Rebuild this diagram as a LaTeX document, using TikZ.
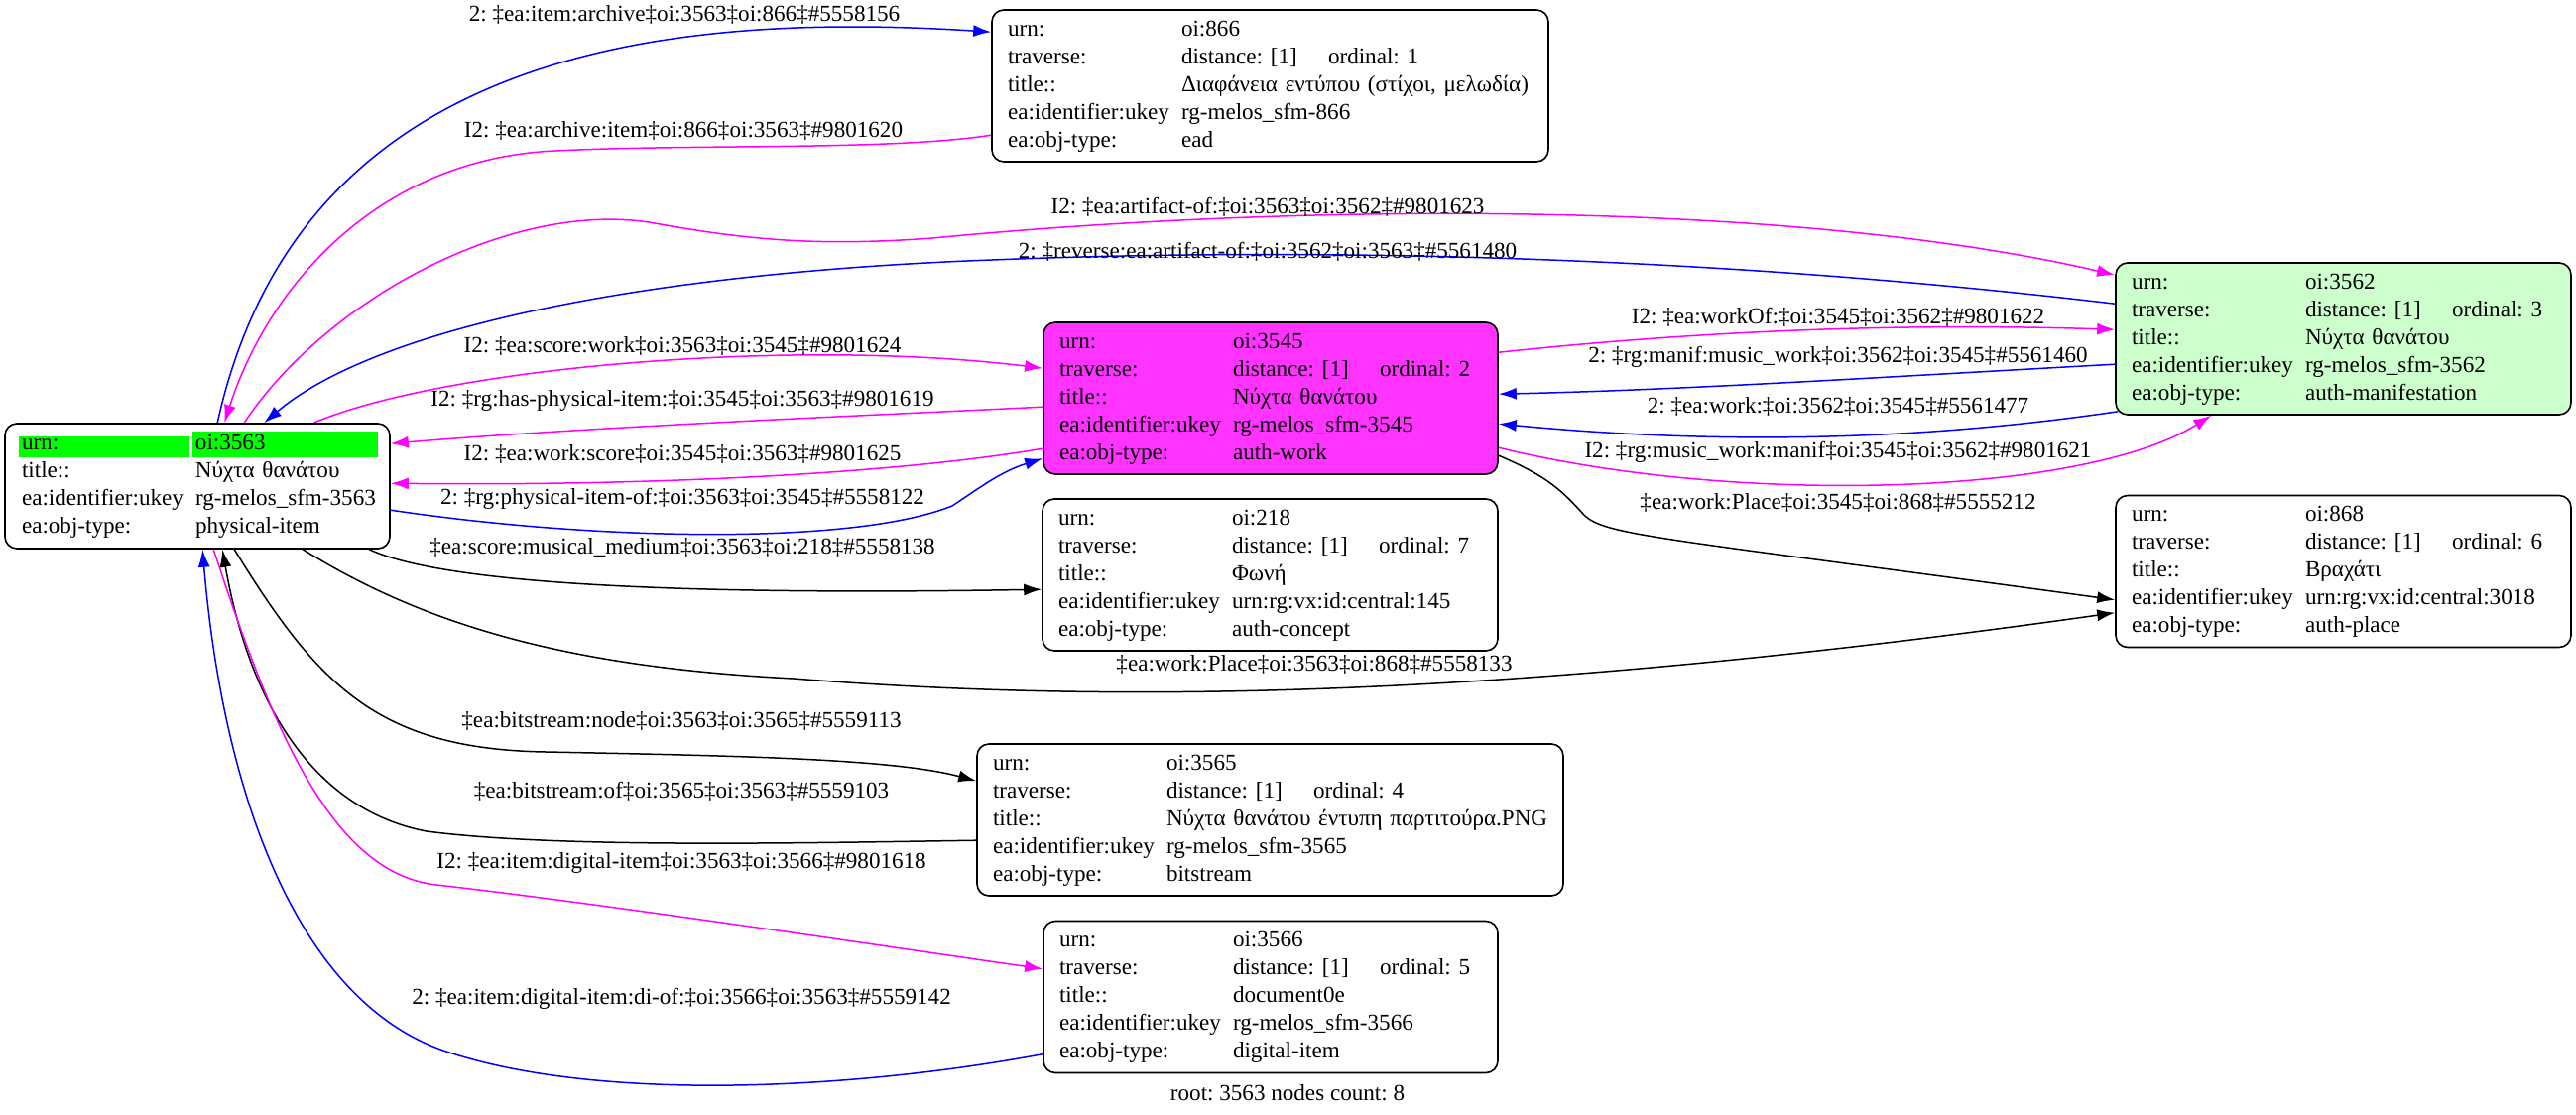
\documentclass[tikz,border=0pt]{standalone}
\usepackage{fontspec}
\setmainfont{Liberation Serif}
\usetikzlibrary{arrows.meta}
\usetikzlibrary{calc}
\pgfdeclarelayer{edgelayer}
\pgfdeclarelayer{nodelayer}
\pgfsetlayers{edgelayer,nodelayer,main}
\definecolor{workpink}{RGB}{255,51,255}
\definecolor{manifgreen}{RGB}{204,255,204}
\definecolor{rootgreen}{RGB}{0,255,0}
\definecolor{fwdblue}{RGB}{0,0,255}
\definecolor{invpink}{RGB}{255,0,255}
\setlength{\fboxsep}{1.5pt}
\newcommand{\recfont}{\fontsize{11.55}{14}\selectfont\frenchspacing}
\newcommand{\kv}[2]{\makebox[87.5pt][l]{#1}\makebox[0pt][l]{#2}}
\newcommand{\trav}[1]{\makebox[74pt][l]{distance: [1]}ordinal: #1}
\newcommand{\hlcell}[2]{\colorbox{rootgreen}{\makebox[#1][l]{\rule[-2pt]{0pt}{7.5pt}#2}}}
\tikzstyle{rec}=[rectangle,rounded corners=6pt,fill=white,draw=black,line width=0.8pt,inner xsep=8pt,inner ysep=0pt,align=left,minimum height=76.5pt,font=\recfont,execute at begin node=\strut,execute at end node=\strut]
\tikzstyle{rec_root}=[rec,inner xsep=8.5pt,text width=177pt,minimum height=63pt]
\tikzstyle{rec_work}=[rec,fill=workpink]
\tikzstyle{rec_manif}=[rec,fill=manifgreen]
\tikzstyle{link}=[-{Latex[length=9pt,width=6pt]},line width=0.75pt,draw=fwdblue]
\tikzstyle{inv_link}=[link,draw=invpink]
\tikzstyle{rel_link}=[link,draw=black]
\tikzstyle{link_label}=[font=\recfont,inner sep=0pt]

\begin{document}
\begin{tikzpicture}[x=0.5pt,y=-0.5pt]
	\useasboundingbox (0,0) rectangle (2597,1124);
	\begin{pgfonlayer}{nodelayer}
		\node [style=rec_root] (0) at (199, 490) {\makebox[\linewidth][l]{\hspace*{-1.5pt}\hlcell{83pt}{urn:}\hspace{1.5pt}\hlcell{90.5pt}{oi:3563}}\\ \kv{title::}{Νύχτα θανάτου}\\ \kv{ea:identifier:ukey}{rg-melos\_sfm-3563}\\ \kv{ea:obj-type:}{physical-item}};
		\node [style=rec, text width=264.5pt] (1) at (1280.5, 86.5) {\kv{urn:}{oi:866}\\ \kv{traverse:}{\trav{1}}\\ \kv{title::}{Διαφάνεια εντύπου (στίχοι, μελωδία)}\\ \kv{ea:identifier:ukey}{rg-melos\_sfm-866}\\ \kv{ea:obj-type:}{ead}};
		\node [style=rec_work, text width=213pt] (2) at (1281, 401.5) {\kv{urn:}{oi:3545}\\ \kv{traverse:}{\trav{2}}\\ \kv{title::}{Νύχτα θανάτου}\\ \kv{ea:identifier:ukey}{rg-melos\_sfm-3545}\\ \kv{ea:obj-type:}{auth-work}};
		\node [style=rec_manif, text width=213.5pt] (3) at (2362.5, 341.5) {\kv{urn:}{oi:3562}\\ \kv{traverse:}{\trav{3}}\\ \kv{title::}{Νύχτα θανάτου}\\ \kv{ea:identifier:ukey}{rg-melos\_sfm-3562}\\ \kv{ea:obj-type:}{auth-manifestation}};
		\node [style=rec, text width=279.5pt] (4) at (1280.5, 826.5) {\kv{urn:}{oi:3565}\\ \kv{traverse:}{\trav{4}}\\ \kv{title::}{Νύχτα θανάτου έντυπη παρτιτούρα.PNG}\\ \kv{ea:identifier:ukey}{rg-melos\_sfm-3565}\\ \kv{ea:obj-type:}{bitstream}};
		\node [style=rec, text width=213pt] (5) at (1281, 1005) {\kv{urn:}{oi:3566}\\ \kv{traverse:}{\trav{5}}\\ \kv{title::}{document0e}\\ \kv{ea:identifier:ukey}{rg-melos\_sfm-3566}\\ \kv{ea:obj-type:}{digital-item}};
		\node [style=rec, text width=213.5pt] (6) at (2362.5, 576) {\kv{urn:}{oi:868}\\ \kv{traverse:}{\trav{6}}\\ \kv{title::}{Βραχάτι}\\ \kv{ea:identifier:ukey}{urn:rg:vx:id:central:3018}\\ \kv{ea:obj-type:}{auth-place}};
		\node [style=rec, text width=213.5pt] (7) at (1280.5, 579.5) {\kv{urn:}{oi:218}\\ \kv{traverse:}{\trav{7}}\\ \kv{title::}{Φωνή}\\ \kv{ea:identifier:ukey}{urn:rg:vx:id:central:145}\\ \kv{ea:obj-type:}{auth-concept}};
		\node [style=link_label] (8) at (1298, 1102) {root: 3563 nodes count: 8};
	\end{pgfonlayer}
	\begin{pgfonlayer}{edgelayer}
		\draw [style=link] ($(0.north west)+(215,0)$) .. controls (300,60) and (650,10) .. ($(1.north west)+(0,23)$) node [style=link_label] at (690,15) {2: ‡ea:item:archive‡oi:3563‡oi:866‡\#5558156};
		\draw [style=inv_link] ($(1.north west)+(0,127)$) .. controls (900,152) and (700,145) .. (560,152) .. controls (380,160) and (270,290) .. ($(0.north west)+(222,0)$) node [style=link_label] at (689,132) {I2: ‡ea:archive:item‡oi:866‡oi:3563‡\#9801620};
		\draw [style=inv_link] ($(0.north west)+(242,0)$) .. controls (330,300) and (520,200) .. (660,225) .. controls (760,243) and (830,248) .. (940,240) .. controls (1300,205) and (1800,200) .. ($(3.north west)+(0,13)$) node [style=link_label] at (1278,209) {I2: ‡ea:artifact-of:‡oi:3563‡oi:3562‡\#9801623};
		\draw [style=link] ($(3.north west)+(0,42)$) .. controls (1700,255) and (1300,250) .. (1000,262) .. controls (650,275) and (380,330) .. ($(0.north west)+(262,0)$) node [style=link_label] at (1278,254) {2: ‡reverse:ea:artifact-of:‡oi:3562‡oi:3563‡\#5561480};
		\draw [style=inv_link] ($(0.north west)+(312,0)$) .. controls (450,370) and (800,340) .. ($(2.north west)+(0,47)$) node [style=link_label] at (688,349) {I2: ‡ea:score:work‡oi:3563‡oi:3545‡\#9801624};
		\draw [style=inv_link] ($(2.north west)+(0,86)$) .. controls (850,420) and (600,430) .. ($(0.north east)+(0,21)$) node [style=link_label] at (688,404) {I2: ‡rg:has-physical-item:‡oi:3545‡oi:3563‡\#9801619};
		\draw [style=inv_link] ($(2.north west)+(0,128)$) .. controls (900,478) and (650,490) .. ($(0.north east)+(0,61)$) node [style=link_label] at (688,458) {I2: ‡ea:work:score‡oi:3545‡oi:3563‡\#9801625};
		\draw [style=link] ($(0.north east)+(0,88)$) .. controls (600,545) and (860,550) .. (960,510) .. controls (990,490) and (1010,475) .. ($(2.north west)+(0,138)$) node [style=link_label] at (688,503) {2: ‡rg:physical-item-of:‡oi:3563‡oi:3545‡\#5558122};
		\draw [style=rel_link] ($(0.south west)+(368,0)$) .. controls (450,590) and (700,600) .. ($(7.north west)+(0,92)$) node [style=link_label] at (688,552) {‡ea:score:musical\_medium‡oi:3563‡oi:218‡\#5558138};
		\draw [style=rel_link] ($(0.south west)+(301,0)$) .. controls (420,625) and (560,672) .. (800,684) .. controls (1150,712) and (1550,700) .. ($(6.north west)+(0,119)$) node [style=link_label] at (1325,670) {‡ea:work:Place‡oi:3563‡oi:868‡\#5558133};
		\draw [style=rel_link] ($(2.north east)+(0,135)$) .. controls (1560,480) and (1575,495) .. (1595,517) .. controls (1615,540) and (1660,540) .. ($(6.north west)+(0,106)$) node [style=link_label] at (1853,507) {‡ea:work:Place‡oi:3545‡oi:868‡\#5555212};
		\draw [style=inv_link] ($(2.north east)+(0,31)$) .. controls (1700,335) and (1900,325) .. ($(3.north west)+(0,68)$) node [style=link_label] at (1853,320) {I2: ‡ea:workOf:‡oi:3545‡oi:3562‡\#9801622};
		\draw [style=link] ($(3.north west)+(0,103)$) .. controls (1900,380) and (1700,393) .. ($(2.north east)+(0,73)$) node [style=link_label] at (1853,360) {2: ‡rg:manif:music\_work‡oi:3562‡oi:3545‡\#5561460};
		\draw [style=link] ($(3.south west)+(3,-4)$) .. controls (1950,442) and (1750,450) .. ($(2.north east)+(0,103)$) node [style=link_label] at (1853,410) {2: ‡ea:work:‡oi:3562‡oi:3545‡\#5561477};
		\draw [style=inv_link] ($(2.north east)+(0,127)$) .. controls (1750,510) and (2100,500) .. ($(3.south west)+(97,0)$) node [style=link_label] at (1853,456) {I2: ‡rg:music\_work:manif‡oi:3545‡oi:3562‡\#9801621};
		\draw [style=rel_link] ($(0.south west)+(232,0)$) .. controls (320,690) and (380,755) .. (550,758) .. controls (750,762) and (900,765) .. ($(4.north west)+(0,38)$) node [style=link_label] at (687,727) {‡ea:bitstream:node‡oi:3563‡oi:3565‡\#5559113};
		\draw [style=rel_link] ($(4.north west)+(0,98)$) .. controls (800,850) and (560,855) .. (430,838) .. controls (310,815) and (250,700) .. ($(0.south west)+(220,0)$) node [style=link_label] at (687,798) {‡ea:bitstream:of‡oi:3565‡oi:3563‡\#5559103};
		\draw [style=inv_link] ($(0.south west)+(211,0)$) .. controls (270,720) and (330,880) .. (440,892) .. controls (600,910) and (900,955) .. ($(5.north west)+(0,49)$) node [style=link_label] at (687,870) {I2: ‡ea:item:digital-item‡oi:3563‡oi:3566‡\#9801618};
		\draw [style=link] ($(5.north west)+(0,135)$) .. controls (850,1100) and (600,1110) .. (450,1060) .. controls (300,1010) and (225,800) .. ($(0.south west)+(200,0)$) node [style=link_label] at (687,1007) {2: ‡ea:item:digital-item:di-of:‡oi:3566‡oi:3563‡\#5559142};
	\end{pgfonlayer}
\end{tikzpicture}
\end{document}
